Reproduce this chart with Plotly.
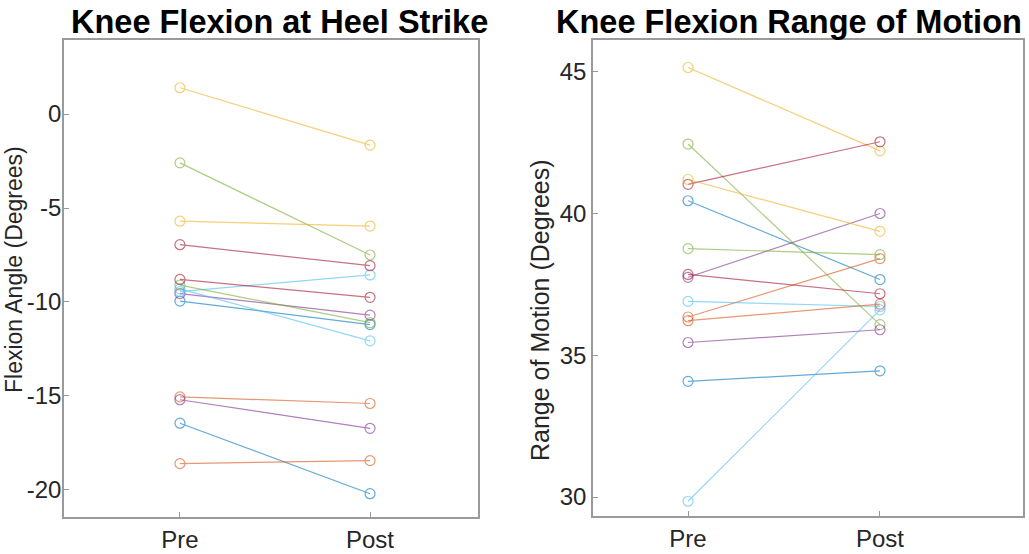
import plotly.graph_objects as go

phases = ["Pre", "Post"]
phase_x = [1, 2]

# MATLAB default colour order, cycled over 14 subjects
colors = ["#0072BD", "#D95319", "#EDB120", "#7E2F8E", "#77AC30", "#4DBEEE", "#A2142F"]

# Knee flexion at heel strike (degrees)
heel_pre = [-9.95, -15.05, 1.4, -9.55, -2.6, -9.45, -6.95,
            -16.45, -18.6, -5.7, -15.2, -9.1, -9.3, -8.8]
heel_post = [-11.2, -15.4, -1.65, -10.7, -7.5, -8.56, -8.07,
             -20.2, -18.44, -5.96, -16.72, -11.1, -12.07, -9.75]

# Knee flexion range of motion (degrees)
rom_pre = [40.45, 36.35, 45.15, 37.75, 42.45, 36.9, 41.03,
           34.08, 36.22, 41.2, 35.45, 38.76, 29.85, 37.85]
rom_post = [37.67, 38.41, 42.21, 40.0, 36.08, 36.72, 42.53,
            34.45, 36.8, 39.37, 35.9, 38.55, 36.6, 37.17]

left_yticks = [0, -5, -10, -15, -20]
left_yticklabels = ["0", "-5", "-10", "-15", "-20"]
right_yticks = [30, 35, 40, 45]
right_yticklabels = ["30", "35", "40", "45"]

W, H = 1029, 554
FONT = "Liberation Sans, Arial, Helvetica, sans-serif"

fig = go.Figure()

for i in range(len(heel_pre)):
    c = colors[i % len(colors)]
    fig.add_trace(go.Scatter(
        x=phase_x, y=[heel_pre[i], heel_post[i]], mode="lines+markers",
        line=dict(color=c, width=1.2), opacity=0.6,
        marker=dict(symbol="circle-open", size=10, color=c, line=dict(width=1.2)),
        xaxis="x", yaxis="y", showlegend=False, hoverinfo="skip"))
    fig.add_trace(go.Scatter(
        x=phase_x, y=[rom_pre[i], rom_post[i]], mode="lines+markers",
        line=dict(color=c, width=1.2), opacity=0.6,
        marker=dict(symbol="circle-open", size=10, color=c, line=dict(width=1.2)),
        xaxis="x2", yaxis="y2", showlegend=False, hoverinfo="skip"))

def px_x(a, b):
    return [a / W, b / W]

def px_y(top, bottom):
    return [1 - bottom / H, 1 - top / H]

axis_common = dict(
    showline=True, mirror=True, linecolor="#9a9a9a", linewidth=1.5,
    ticks="inside", ticklen=5, tickcolor="#9a9a9a", showgrid=False, zeroline=False,
    tickfont=dict(family=FONT, size=24, color="#262626"),
)

fig.update_layout(
    width=W, height=H,
    margin=dict(l=0, r=0, t=0, b=0),
    paper_bgcolor="white", plot_bgcolor="white",
    xaxis=dict(domain=px_x(64, 478), range=[0.39, 2.568],
               tickvals=phase_x, ticktext=phases, anchor="y", **axis_common),
    yaxis=dict(domain=px_y(40, 517), range=[-21.44, 3.94],
               tickvals=left_yticks, ticktext=left_yticklabels, anchor="x",
               ticklabelstandoff=-4, **axis_common),
    xaxis2=dict(domain=px_x(593, 1023), range=[0.505, 2.745],
                tickvals=phase_x, ticktext=phases, anchor="y2", **axis_common),
    yaxis2=dict(domain=px_y(40, 516), range=[29.33, 46.12],
                tickvals=right_yticks, ticktext=right_yticklabels, anchor="x2", **axis_common),
    annotations=[
        dict(text="<b>Knee Flexion at Heel Strike</b>", x=279 / W, y=1 - 22 / H,
             xref="paper", yref="paper", showarrow=False, xanchor="center", yanchor="middle",
             font=dict(family=FONT, size=32.5, color="black")),
        dict(text="<b>Knee Flexion Range of Motion</b>", x=789 / W, y=1 - 22 / H,
             xref="paper", yref="paper", showarrow=False, xanchor="center", yanchor="middle",
             font=dict(family=FONT, size=32.5, color="black")),
        dict(text="Flexion Angle (Degrees)", x=14 / W, y=1 - 270 / H, textangle=-90,
             xref="paper", yref="paper", showarrow=False, xanchor="center", yanchor="middle",
             font=dict(family=FONT, size=23, color="#262626")),
        dict(text="Range of Motion (Degrees)", x=540 / W, y=1 - 310 / H, textangle=-90,
             xref="paper", yref="paper", showarrow=False, xanchor="center", yanchor="middle",
             font=dict(family=FONT, size=25, color="#262626")),
    ],
)

fig.write_html("out.html")
